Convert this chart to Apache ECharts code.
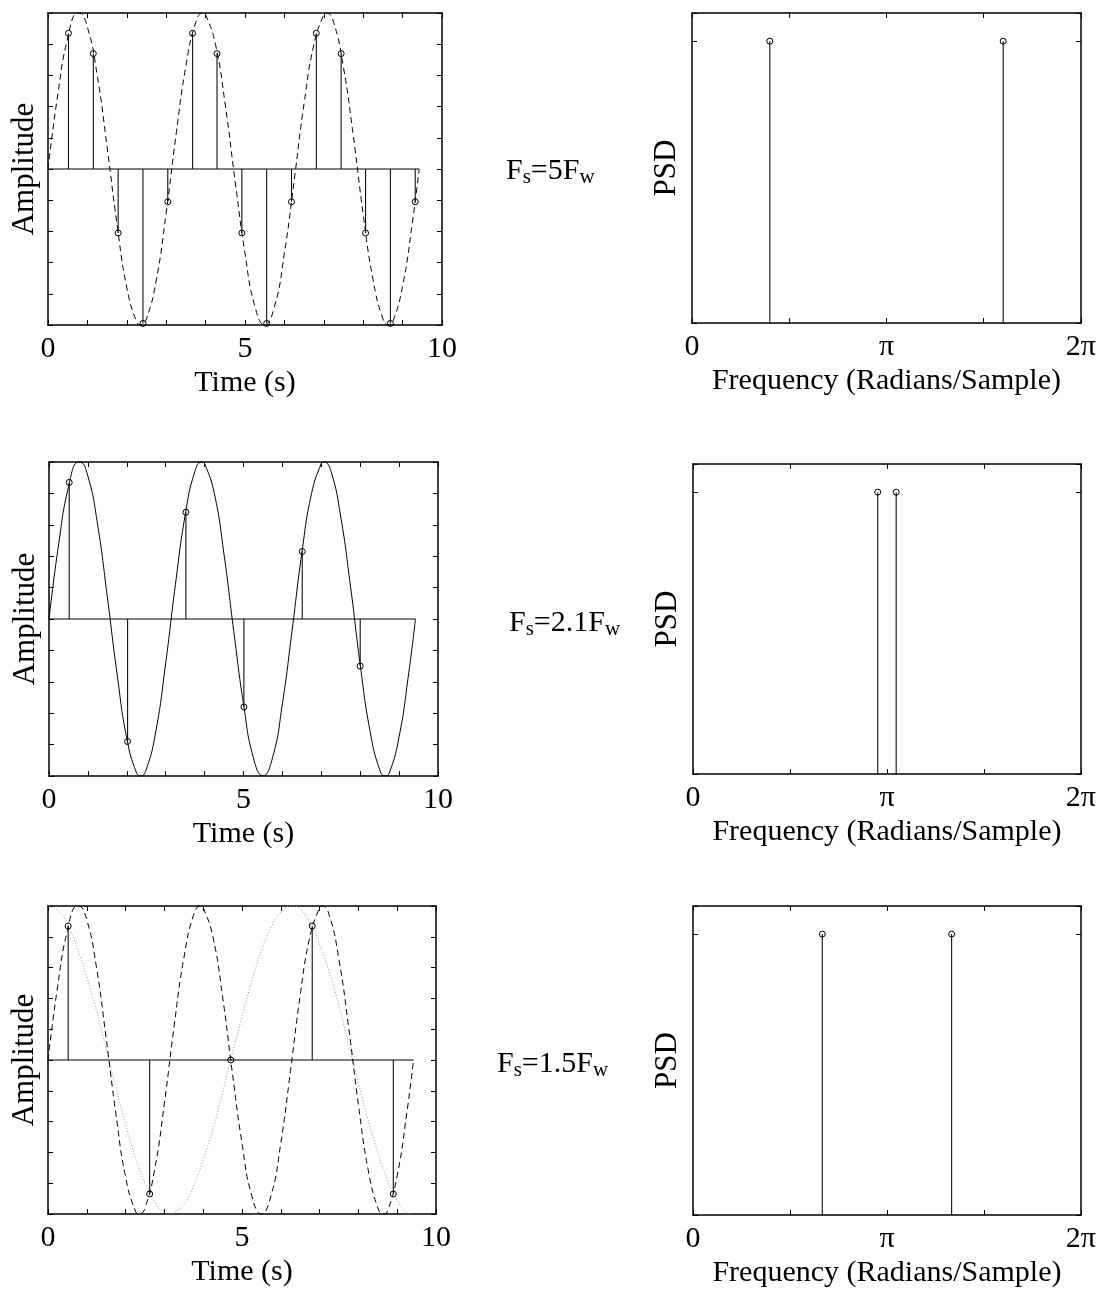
<!DOCTYPE html>
<html>
<head>
<meta charset="utf-8">
<script src="https://cdn.jsdelivr.net/npm/echarts@6/dist/echarts.min.js"></script>
<style>
  html, body { margin: 0; padding: 0; background: #fff; }
  #chart { width: 1099px; height: 1289px; }
</style>
</head>
<body>
<div id="chart"></div>
<script>
// ---------------- DATA ----------------
// Continuous waveform (t in s, amplitude)
const waveT = [0, 0.25, 0.5, 0.75, 0.79, 1.0, 1.25, 1.5, 1.75, 2.0, 2.25, 2.36, 2.5, 2.75, 3.0, 3.25, 3.5, 3.75, 3.93, 4.0, 4.25, 4.5, 4.75, 5.0, 5.25, 5.5, 5.75, 6.0, 6.25, 6.5, 6.75, 7.0, 7.07, 7.25, 7.5, 7.75, 8.0, 8.25, 8.5, 8.64, 8.75, 9.0, 9.25, 9.42];
const waveV = [0, 0.48, 0.84, 1.0, 1.0, 0.91, 0.60, 0.14, -0.35, -0.76, -0.98, -1.0, -0.96, -0.71, -0.28, 0.22, 0.66, 0.94, 1.0, 0.99, 0.80, 0.41, -0.08, -0.54, -0.88, -1.0, -0.88, -0.54, -0.07, 0.42, 0.80, 0.99, 1.0, 0.94, 0.65, 0.21, -0.29, -0.71, -0.96, -1.0, -0.98, -0.75, -0.34, 0.0];
// Aliased (dotted) curve in the 1.5Fw panel
const aliasT = [0, 0.25, 0.5, 0.75, 1.0, 1.25, 1.5, 1.75, 2.0, 2.25, 2.5, 2.75, 3.0, 3.14, 3.25, 3.5, 3.75, 4.0, 4.25, 4.5, 4.75, 5.0, 5.25, 5.5, 5.75, 6.0, 6.28, 6.5, 6.75, 7.0, 7.25, 7.5, 7.75, 8.0, 8.25, 8.5, 8.75, 9.0, 9.25, 9.42];
const aliasV = [1.0, 0.97, 0.88, 0.73, 0.54, 0.32, 0.07, -0.18, -0.42, -0.63, -0.80, -0.92, -0.99, -1.0, -0.99, -0.94, -0.82, -0.65, -0.45, -0.21, 0.04, 0.28, 0.51, 0.71, 0.86, 0.96, 1.0, 0.98, 0.89, 0.75, 0.57, 0.35, 0.10, -0.15, -0.39, -0.60, -0.78, -0.91, -0.99, -1.0];
const baselineEnd = 9.42;

// Samples, Fs = 5Fw
const s5T = [0.52, 1.15, 1.78, 2.41, 3.04, 3.67, 4.29, 4.92, 5.55, 6.18, 6.81, 7.44, 8.06, 8.69, 9.32];
const s5V = [0.87, 0.74, -0.41, -0.99, -0.21, 0.87, 0.74, -0.41, -0.99, -0.21, 0.87, 0.74, -0.41, -0.99, -0.21];
// Samples, Fs = 2.1Fw
const s21T = [0.52, 2.02, 3.52, 5.01, 6.51, 8.00];
const s21V = [0.87, -0.78, 0.68, -0.56, 0.43, -0.30];
// Samples, Fs = 1.5Fw
const s15T = [0.52, 2.62, 4.71, 6.81, 8.90];
const s15V = [0.87, -0.87, 0.0, 0.87, -0.87];

// PSD lines (frequency in rad/sample, relative power)
const psd5F = [1.257, 5.027];
const psd21F = [2.992, 3.291];
const psd15F = [2.094, 4.189];
const psdV = [1, 1];

// Tick labels
const timeTickLabels = { 0: '0', 5: '5', 10: '10' };
const freqTickLabels = ['0', '', 'π', '', '2π'];
const annotations = [
  { main1: 'F', sub1: 's', main2: '=5F', sub2: 'w' },
  { main1: 'F', sub1: 's', main2: '=2.1F', sub2: 'w' },
  { main1: 'F', sub1: 's', main2: '=1.5F', sub2: 'w' }
];

// ---------------- LAYOUT ----------------
const FONT = 'Liberation Serif';
const grids = [
  { left: 48, top: 13, width: 394, height: 312 },
  { left: 692, top: 13, width: 391, height: 310 },
  { left: 49, top: 462, width: 389, height: 314 },
  { left: 693, top: 464, width: 392, height: 310 },
  { left: 48, top: 906, width: 388, height: 308 },
  { left: 693, top: 906, width: 391, height: 311 }
];
const annotPos = [[506, 171], [509, 623], [497, 1064]];

function zip(a, b) { return a.map((v, i) => [v, b[i]]); }

const axisLineStyle = { show: true, onZero: false, lineStyle: { color: '#000', width: 1.5 } };
const tickStyle = { show: true, inside: true, length: 5, lineStyle: { color: '#000', width: 1 } };

const xAxes = [], yAxes = [];
grids.forEach((g, i) => {
  const isTime = (i % 2 === 0);
  const xBase = isTime
    ? { type: 'value', min: 0, max: 10, interval: 1 }
    : { type: 'value', min: 0, max: 2 * Math.PI, interval: Math.PI / 2 };
  const yBase = isTime
    ? { type: 'value', min: -1, max: 1, interval: 0.2 }
    : { type: 'value', min: 0, max: 1.1, interval: 1 };
  xAxes.push(Object.assign({}, xBase, {
    gridIndex: i, position: 'bottom',
    axisLine: axisLineStyle, axisTick: tickStyle, splitLine: { show: false },
    axisLabel: {
      show: true, margin: 9, color: '#000', fontFamily: FONT, fontSize: 30,
      formatter: isTime
        ? (v) => { const k = Math.round(v); return Math.abs(v - k) < 1e-6 && timeTickLabels[k] !== undefined ? timeTickLabels[k] : ''; }
        : (v) => { const k = Math.round(v / (Math.PI / 2)); return freqTickLabels[k] || ''; }
    },
    name: isTime ? 'Time (s)' : 'Frequency (Radians/Sample)',
    nameLocation: 'middle', nameGap: 43,
    nameTextStyle: { color: '#000', fontFamily: FONT, fontSize: 30 }
  }));
  xAxes.push(Object.assign({}, xBase, {
    gridIndex: i, position: 'top',
    axisLine: axisLineStyle, axisTick: tickStyle, splitLine: { show: false },
    axisLabel: { show: false }
  }));
  yAxes.push(Object.assign({}, yBase, {
    gridIndex: i, position: 'left',
    axisLine: axisLineStyle, axisTick: tickStyle, splitLine: { show: false },
    axisLabel: { show: false },
    name: isTime ? 'Amplitude' : 'PSD',
    nameLocation: 'middle', nameGap: isTime ? 8 : 10,
    nameTextStyle: { color: '#000', fontFamily: FONT, fontSize: 31 }
  }));
  yAxes.push(Object.assign({}, yBase, {
    gridIndex: i, position: 'right',
    axisLine: axisLineStyle, axisTick: tickStyle, splitLine: { show: false },
    axisLabel: { show: false }
  }));
});

function stemSeries(gi, xs, ys) {
  return {
    type: 'custom', xAxisIndex: 2 * gi, yAxisIndex: 2 * gi, data: zip(xs, ys), z: 3,
    renderItem: function (params, api) {
      const x = api.value(0), y = api.value(1);
      const p0 = api.coord([x, 0]), p1 = api.coord([x, y]);
      return { type: 'line', shape: { x1: p0[0], y1: p0[1], x2: p1[0], y2: p1[1] },
               style: { stroke: '#111', lineWidth: 1.1 } };
    }
  };
}
function markerSeries(gi, xs, ys) {
  return {
    type: 'scatter', xAxisIndex: 2 * gi, yAxisIndex: 2 * gi, data: zip(xs, ys), z: 4,
    symbol: 'circle', symbolSize: 6,
    itemStyle: { color: 'rgba(255,255,255,0)', borderColor: '#000', borderWidth: 1, opacity: 1 },
    emphasis: { disabled: true }
  };
}
function curveSeries(gi, xs, ys, type, color) {
  return {
    type: 'line', xAxisIndex: 2 * gi, yAxisIndex: 2 * gi, data: zip(xs, ys), z: 2,
    showSymbol: false, symbol: 'none', smooth: true,
    lineStyle: { color: color, width: 1, type: type }
  };
}
function baselineSeries(gi) {
  return {
    type: 'line', xAxisIndex: 2 * gi, yAxisIndex: 2 * gi, data: [[0, 0], [baselineEnd, 0]], z: 2,
    showSymbol: false, symbol: 'none', lineStyle: { color: '#000', width: 1 }
  };
}

const series = [
  // Row 1
  curveSeries(0, waveT, waveV, [6, 4], '#000'),
  baselineSeries(0), stemSeries(0, s5T, s5V), markerSeries(0, s5T, s5V),
  stemSeries(1, psd5F, psdV), markerSeries(1, psd5F, psdV),
  // Row 2
  curveSeries(2, waveT, waveV, 'solid', '#000'),
  baselineSeries(2), stemSeries(2, s21T, s21V), markerSeries(2, s21T, s21V),
  stemSeries(3, psd21F, psdV), markerSeries(3, psd21F, psdV),
  // Row 3
  curveSeries(4, aliasT, aliasV, [1, 2], '#999'),
  curveSeries(4, waveT, waveV, [6, 4], '#000'),
  baselineSeries(4), stemSeries(4, s15T, s15V), markerSeries(4, s15T, s15V),
  stemSeries(5, psd15F, psdV), markerSeries(5, psd15F, psdV)
];

const graphic = annotations.map((a, i) => ({
  type: 'text', x: annotPos[i][0], y: annotPos[i][1], silent: true,
  style: {
    text: '{m|' + a.main1 + '}{s|' + a.sub1 + '}{m|' + a.main2 + '}{s|' + a.sub2 + '}',
    align: 'left', verticalAlign: 'middle', fill: '#000',
    rich: {
      m: { fontFamily: FONT, fontSize: 30, lineHeight: 34, fill: '#000' },
      s: { fontFamily: FONT, fontSize: 21, lineHeight: 21, fill: '#000', verticalAlign: 'bottom' }
    }
  }
}));

const chart = echarts.init(document.getElementById('chart'), null, { renderer: 'canvas' });
chart.setOption({
  animation: false,
  backgroundColor: '#fff',
  grid: grids.map(g => Object.assign({ show: false, containLabel: false }, g)),
  xAxis: xAxes,
  yAxis: yAxes,
  series: series,
  graphic: graphic
});
</script>
</body>
</html>
